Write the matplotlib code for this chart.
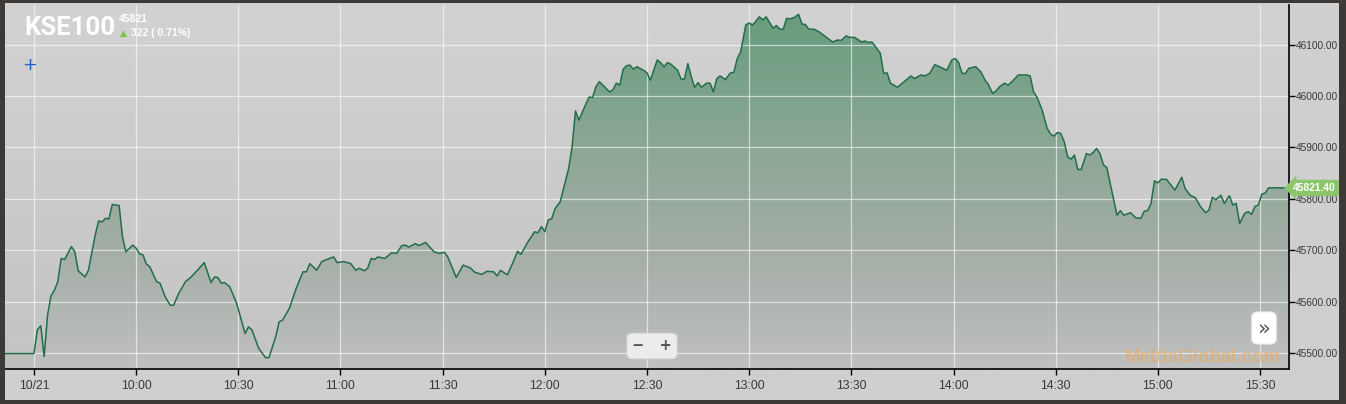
import matplotlib.pyplot as plt
import numpy as np
from matplotlib.colors import LinearSegmentedColormap
from matplotlib.patches import PathPatch, Rectangle

# minutes after 09:30 on 10/21, KSE100 index level
minutes = [-8.5, 0, 1, 2, 3, 4, 5, 6, 7, 8, 9, 11, 12, 13, 15, 16, 18, 19, 20, 21,
           22, 23, 25, 26, 27, 29, 30, 31, 32, 33, 34, 36, 37, 38.5, 40, 41, 42.5,
           44.5, 46, 48, 50, 52, 53, 54, 55, 56, 57.5, 59.5, 62, 63, 64, 66, 68,
           69, 71, 72, 73, 75, 77, 79, 80, 81, 83, 84.5, 86, 88, 89, 91, 93, 94.5,
           95.5, 97, 98, 99, 100, 101, 103, 105, 106.5, 108, 109, 110, 112, 113,
           115, 117.5, 119, 120.5, 121.5, 124, 126, 128, 129.5, 131.5, 133, 135,
           136, 137, 139, 140.5, 142, 143, 145, 147, 148, 149, 150, 151, 152, 153,
           154.5, 155.5, 157, 158, 159, 160, 161.5, 163, 164, 165, 166, 167.5, 169,
           170, 171, 172, 173, 174, 175, 176, 177, 179, 180, 181, 183, 184, 185,
           186, 187, 189, 190, 191, 192, 193, 194, 195, 196, 197.5, 198.5, 199.5,
           200.5, 201.5, 203, 204.5, 205.5, 206.5, 207.5, 209, 210, 211, 213, 214,
           215, 217, 218, 219, 220, 221, 222, 223, 223.5, 224.5, 225.5, 226.5,
           227.5, 229, 230.5, 232.5, 234.5, 236, 237, 238.5, 239.5, 241, 243, 244,
           245, 246, 247, 248.5, 249.5, 250.5, 251.5, 253.5, 255, 257.5, 258.5,
           260.5, 261.5, 263, 264.5, 266.5, 268, 269.5, 270.5, 271.5, 272.5, 273.5,
           274.5, 276.5, 278, 279.5, 280, 281.5, 282.5, 283.5, 285, 286, 287.5,
           289, 291.5, 292.5, 293.5, 294.5, 296, 297.5, 298.5, 299.5, 300.5, 301.5,
           302.5, 303.5, 304.5, 305.5, 306.5, 307.5, 309, 310, 311, 312, 313, 314,
           315, 316.5, 318, 319, 320, 322, 323.5, 325, 326, 327, 328, 329, 330,
           331, 332.5, 335, 337, 338, 339.5, 341, 342.5, 344, 345, 346, 347, 348.5,
           349.5, 351, 352, 353, 354, 355.5, 356.5, 357.5, 358.5, 359.5, 360.5,
           361.5, 362.5, 368.5]
kse100 = [45499, 45499, 45545, 45553, 45493, 45574, 45611, 45622, 45639, 45684,
          45682, 45707, 45697, 45660, 45648, 45661, 45730, 45757, 45755, 45762,
          45761, 45789, 45787, 45726, 45697, 45710, 45704, 45693, 45691, 45673,
          45668, 45639, 45636, 45610, 45593, 45593, 45616, 45639, 45647, 45661,
          45676, 45637, 45648, 45647, 45636, 45637, 45629, 45597, 45538, 45551,
          45545, 45509, 45491, 45491, 45532, 45561, 45564, 45587, 45626, 45658,
          45658, 45674, 45661, 45678, 45682, 45687, 45676, 45678, 45674, 45661,
          45665, 45660, 45665, 45684, 45682, 45687, 45684, 45695, 45694, 45709,
          45710, 45706, 45713, 45709, 45715, 45697, 45694, 45696, 45687, 45647,
          45671, 45666, 45657, 45653, 45659, 45658, 45650, 45661, 45652, 45674,
          45698, 45692, 45716, 45736, 45734, 45746, 45736, 45759, 45761, 45781,
          45794, 45820, 45859, 45901, 45971, 45953, 45976, 45998, 45997, 46018,
          46028, 46018, 46008, 46012, 46025, 46021, 46052, 46059, 46060, 46052,
          46057, 46050, 46045, 46031, 46070, 46065, 46057, 46065, 46062, 46050,
          46033, 46033, 46063, 46037, 46017, 46026, 46017, 46025, 46025, 46008,
          46034, 46039, 46032, 46045, 46046, 46073, 46086, 46138, 46142, 46138,
          46154, 46148, 46154, 46132, 46137, 46130, 46130, 46151, 46150, 46152,
          46154, 46159, 46140, 46139, 46130, 46130, 46125, 46115, 46105, 46109,
          46108, 46117, 46114, 46114, 46105, 46107, 46104, 46105, 46097, 46083,
          46044, 46045, 46025, 46017, 46025, 46039, 46034, 46041, 46039, 46044,
          46061, 46055, 46050, 46070, 46073, 46065, 46044, 46044, 46054, 46057,
          46047, 46028, 46025, 46005, 46010, 46018, 46025, 46021, 46030, 46041,
          46041, 46039, 46008, 45998, 45973, 45937, 45926, 45922, 45929, 45927,
          45911, 45882, 45877, 45885, 45857, 45857, 45888, 45885, 45890, 45898,
          45888, 45866, 45861, 45814, 45768, 45777, 45768, 45773, 45763, 45762,
          45776, 45777, 45791, 45835, 45831, 45838, 45838, 45817, 45842, 45820,
          45807, 45802, 45785, 45773, 45778, 45803, 45798, 45807, 45791, 45806,
          45788, 45791, 45752, 45772, 45775, 45770, 45785, 45788, 45809, 45811,
          45821.4, 45821.4]

tick_minutes = [0, 30, 60, 90, 120, 150, 180, 210, 240, 270, 300, 330, 360]
tick_labels = ['10/21', '10:00', '10:30', '11:00', '11:30', '12:00', '12:30',
               '13:00', '13:30', '14:00', '14:30', '15:00', '15:30']
y_ticks = [45500, 45600, 45700, 45800, 45900, 46000, 46100]

index_name = 'KSE100'
last_close = 45821
change = 322
change_pct = 0.71
last_value = 45821.40

W, H = 1346, 404
fig = plt.figure(figsize=(W / 100, H / 100), dpi=100)
fig.patch.set_facecolor('#cfcfcf')
ax = fig.add_axes([5 / W, 35 / H, 1284 / W, 364 / H])

x0, x1 = minutes[0], minutes[-1]
y0, y1 = 45469, 46177

# plot background gradient
bg = LinearSegmentedColormap.from_list('bg', ['#c4c4c4', '#d2d2d2'])
ax.imshow(np.linspace(0, 1, 256).reshape(-1, 1), cmap=bg, origin='lower',
          extent=[x0, x1, y0, y1], aspect='auto', zorder=0)

# area fill gradient clipped to the series
fill_cmap = LinearSegmentedColormap.from_list(
    'fill', ['#bfc0bf', '#a3ada6', '#86a691', '#659b7c'])
im = ax.imshow(np.linspace(0, 1, 256).reshape(-1, 1), cmap=fill_cmap, origin='lower',
               extent=[x0, x1, y0, y1], aspect='auto', zorder=1)
area = ax.fill_between(minutes, kse100, y0, facecolor='none', edgecolor='none')
clip = PathPatch(area.get_paths()[0], transform=ax.transData,
                 facecolor='none', edgecolor='none')
ax.add_patch(clip)
im.set_clip_path(clip)

ax.plot(minutes, kse100, color='#226e4b', lw=1.1, zorder=3)

ax.set_xlim(x0, x1)
ax.set_ylim(y0, y1)
ax.set_xticks(tick_minutes)
ax.set_xticklabels(tick_labels)
ax.set_yticks(y_ticks)
ax.set_yticklabels([f'{v:.2f}' for v in y_ticks])
ax.yaxis.tick_right()
ax.set_axisbelow('line')
ax.grid(True, color='white', lw=0.9, alpha=0.6)
for s in ['left', 'top']:
    ax.spines[s].set_visible(False)
for s in ['right', 'bottom']:
    ax.spines[s].set_color('black')
    ax.spines[s].set_linewidth(1.2)
ax.tick_params(axis='both', direction='out', length=4, width=1, color='black',
               labelcolor='#3a3a3a')
ax.tick_params(axis='y', pad=1, labelsize=7.3)
ax.tick_params(axis='x', pad=4, labelsize=8.8)
for lab in ax.get_xticklabels() + ax.get_yticklabels():
    lab.set_family('Liberation Sans')

# last value tag
ax.annotate(f'{last_value:.2f}', xy=(1.0, last_value),
            xycoords=('axes fraction', 'data'), xytext=(3, 0),
            textcoords='offset points', ha='left', va='center', fontsize=7.4,
            color='white', weight='bold', family='Liberation Sans',
            bbox=dict(boxstyle='larrow,pad=0.3', fc='#8cc66b', ec='none'),
            annotation_clip=False, zorder=6)

# watermark
ax.text((1125 - 5) / 1284, (369 - 357) / 364, 'MettisGlobal.com',
        transform=ax.transAxes, color='#f3a54a', alpha=0.5, fontsize=13.5,
        weight='bold', family='Liberation Sans', ha='left', va='center',
        clip_on=True, zorder=5)

# header texts
fig.text(24 / W, 1 - 28 / H, index_name, fontsize=18.5, weight='bold',
         color='white', family='Roboto', va='center', ha='left')
fig.text(119 / W, 1 - 19 / H, f'{last_close}', fontsize=7.5, color='white',
         weight='bold', family='Liberation Sans', va='center', ha='left')
fig.text(120 / W, 1 - 33 / H, '▲', fontsize=6.5, color='#7cc142',
         va='center', ha='left')
fig.text(131 / W, 1 - 33 / H, f'{change} ( {change_pct:.2f}%)', fontsize=7.5,
         color='white', weight='bold', family='Liberation Sans',
         va='center', ha='left')
fig.text(30 / W, 1 - 65 / H, '+', fontsize=13, color='#2563c9',
         va='center', ha='center')

# zoom buttons
fig.text(652 / W, 1 - 346 / H, '−   +', fontsize=10.5, weight='bold',
         color='#555555', va='center', ha='center',
         bbox=dict(boxstyle='round,pad=0.35', fc='#ececec', ec='#dddddd', lw=0.8))
fig.text(1264 / W, 1 - 328 / H, '»', fontsize=15, color='#555555',
         va='center', ha='center',
         bbox=dict(boxstyle='round,pad=0.3', fc='white', ec='#dddddd', lw=0.8))

# dark frame
frame = '#3d3935'
for rect in [(0, 0, 5 / W, 1), (1339 / W, 0, 7 / W, 1),
             (0, 1 - 3 / H, 1, 3 / H), (0, 0, 1, 4 / H)]:
    fig.patches.append(Rectangle(rect[:2], rect[2], rect[3], transform=fig.transFigure,
                                 facecolor=frame, edgecolor='none', zorder=10))

fig.savefig('out.png', dpi=100, facecolor=fig.get_facecolor())
